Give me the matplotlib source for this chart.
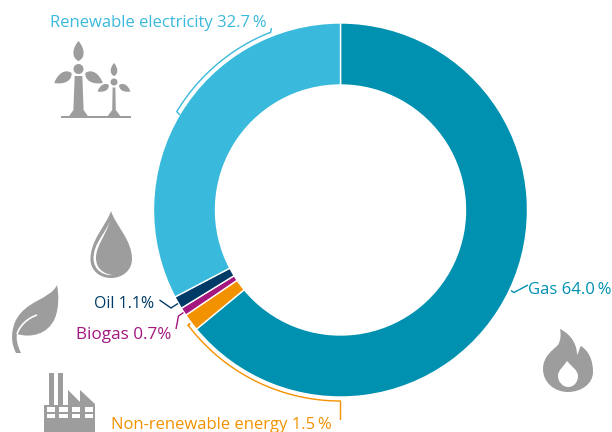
import numpy as np
import matplotlib
matplotlib.use('Agg')
import matplotlib.pyplot as plt
from matplotlib.patches import Circle, PathPatch, Polygon, Rectangle
from matplotlib.path import Path

plt.rcParams['font.family'] = ['Open Sans', 'DejaVu Sans']

# data
labels = ['Gas', 'Non-renewable energy', 'Biogas', 'Oil', 'Renewable electricity']
values = [64.0, 1.5, 0.7, 1.1, 32.7]
colors = ['#0090b0', '#f39200', '#a3177f', '#003a66', '#39b9db']
texts = ['Gas 64.0\u2009%', 'Non-renewable energy 1.5\u2009%', 'Biogas 0.7%', 'Oil 1.1%',
         'Renewable electricity 32.7\u2009%']

GREY = '#9d9d9d'
H = 432
cx, cy = 340.5, H - 210

fig = plt.figure(figsize=(6.12, 4.32), dpi=100)
ax = fig.add_axes([0, 0, 1, 1])

ax.pie(values, colors=colors, startangle=90, counterclock=False, radius=187,
       center=(cx, cy), frame=True,
       wedgeprops=dict(width=62, edgecolor='white', linewidth=1.0))
ax.set_xlim(0, 612)
ax.set_ylim(0, H)
ax.set_aspect('equal')
ax.axis('off')


# coordinates below are picture pixels, y going down
def flip(pts):
    return [(x, H - y) for x, y in pts]


def line(pts, color, lw=1.0):
    xs, ys = zip(*flip(pts))
    ax.plot(xs, ys, color=color, lw=lw, solid_joinstyle='miter', solid_capstyle='butt')


def shape(verts, codes, color=GREY, z=3):
    ax.add_patch(PathPatch(Path(flip(verts), codes), fc=color, ec='none', zorder=z))


def arc_pts(a0, a1, r=191):
    # clockwise degrees from the top of the ring
    a = np.radians(np.linspace(a0, a1, 80))
    return [(cx + r * np.sin(t), 210 - r * np.cos(t)) for t in a]


M, L, C, Z = Path.MOVETO, Path.LINETO, Path.CURVE4, Path.CLOSEPOLY

# leaders
line([(270.5, 33), (271.5, 28)], colors[4])
line([(270.5, 33)] + arc_pts(338.5, 301, 191)[1:] + [(180, 115)], colors[4])
line([(188, 326), (190, 323.5)] + arc_pts(233, 180, 191) + [(340.5, 420)], colors[1])
line([(511, 290.5), (514, 292.5), (528, 285)], colors[0])
line([(159.5, 300), (171, 308), (178, 303.5)], colors[3])
line([(176, 329), (178.5, 316), (183.5, 312.5)], colors[2])

# labels
size = 12.0
ax.text(50, H - 27, texts[4], color=colors[4], fontsize=size, va='baseline')
ax.text(528, H - 294, texts[0], color=colors[0], fontsize=size, va='baseline')
ax.text(94, H - 308, texts[3], color=colors[3], fontsize=11.4, va='baseline')
ax.text(76, H - 339, texts[2], color=colors[2], fontsize=12.3, va='baseline')
ax.text(111, H - 429, texts[1], color=colors[1], fontsize=size, va='baseline')


# icons
def blade(hx, hy, ang, length, width, start):
    t = np.radians(ang)
    d = np.array([np.sin(t), -np.cos(t)])
    n = np.array([d[1], -d[0]])
    h = np.array([hx, hy])
    p0 = h + d * start
    p1 = h + d * length
    w = width * 0.68
    s = length - start
    verts = [p0, p0 + n * w + d * s * .15, p0 + n * w + d * s * .6, p1,
             p0 - n * w + d * s * .6, p0 - n * w + d * s * .15, p0, p0]
    shape([tuple(v) for v in verts], [M, C, C, C, C, C, C, Z])


def turbine(hx, hy, hub, bl, bw, start, tw, base_w):
    for a in (0, 120, 240):
        blade(hx, hy, a, bl, bw, start)
    ax.add_patch(Circle((hx, H - hy), hub, fc=GREY, ec='none', zorder=3))
    ax.add_patch(Polygon(flip([(hx - tw * .45, hy + hub + 2), (hx + tw * .45, hy + hub + 2),
                               (hx + tw * .6, 110), (hx + base_w, 117), (hx - base_w, 117),
                               (hx - tw * .6, 110)]), fc=GREY, ec='none', zorder=3))


turbine(78.5, 69, 5, 28, 10, 8, 8.5, 10)
turbine(114, 82, 3.5, 19, 6.5, 6, 3, 7)
ax.add_patch(Rectangle((61, H - 118), 70, 2, fc=GREY, ec='none', zorder=3))

# oil drop
drop_v = [(111, 211), (106, 226), (90, 240), (90.5, 260), (91, 271), (100, 278), (111, 278),
          (123, 278), (132, 270), (132, 259), (132, 240), (116, 226), (111, 211), (111, 211)]
shape(drop_v, [M] + [C] * 12 + [Z])
shape([(110, 220), (107, 232), (93, 243), (93.5, 259), (94, 270), (103, 276), (113, 275),
       (103, 274), (96, 268), (96, 258), (96, 245), (107, 234), (110, 220), (110, 220)],
      [M] + [C] * 12 + [Z], color='white', z=4)

# leaf
shape([(57, 285), (50, 300), (25, 300), (15, 322), (10, 335), (12, 345), (16, 353), (21, 353),
       (17, 345), (16, 338), (17, 334), (30, 338), (48, 335), (55, 318), (59, 308), (59, 295),
       (57, 285), (57, 285)],
      [M, C, C, C, C, C, C, L, C, C, C, C, C, C, C, C, C, Z])
ax.add_patch(PathPatch(Path(flip([(17, 334), (20, 325), (28, 318), (37, 315)]), [M, C, C, C]),
                       fc='none', ec='white', lw=1.2, zorder=4))

# factory
shape([(44, 432), (44, 405), (49, 405), (49, 373), (54, 373), (54, 405), (58, 405), (58, 373), (63, 373),
       (63, 405), (68, 405), (68, 390), (80, 402), (80, 390), (95, 404), (95, 432), (44, 432)],
      [M] + [L] * 15 + [Z])
for y0, y1 in ((407, 412), (414, 418)):
    for x0, x1 in ((46.7, 55), (59, 67.7), (71.7, 80), (85, 93)):
        ax.add_patch(Rectangle((x0, H - y1), x1 - x0, y1 - y0, fc='white', ec='none', zorder=4))

# flame
shape([(560, 329), (572, 335), (577, 345), (577, 355), (579, 352), (580, 346), (581, 346), (590, 352),
       (593, 362), (593, 372), (593, 384), (581, 392), (568, 392), (555, 392), (543, 383), (543, 369),
       (543, 356), (553, 350), (558, 345), (561, 340), (561, 334), (560, 329), (560, 329)],
      [M] + [C] * 21 + [Z])
shape([(567, 361), (564, 366), (558, 370), (558, 376), (558, 382), (563, 387), (568, 387),
       (574, 387), (578, 382), (578, 376), (578, 370), (571, 366), (567, 361), (567, 361)],
      [M] + [C] * 12 + [Z], color='white', z=4)

fig.savefig('out.png', dpi=100)
